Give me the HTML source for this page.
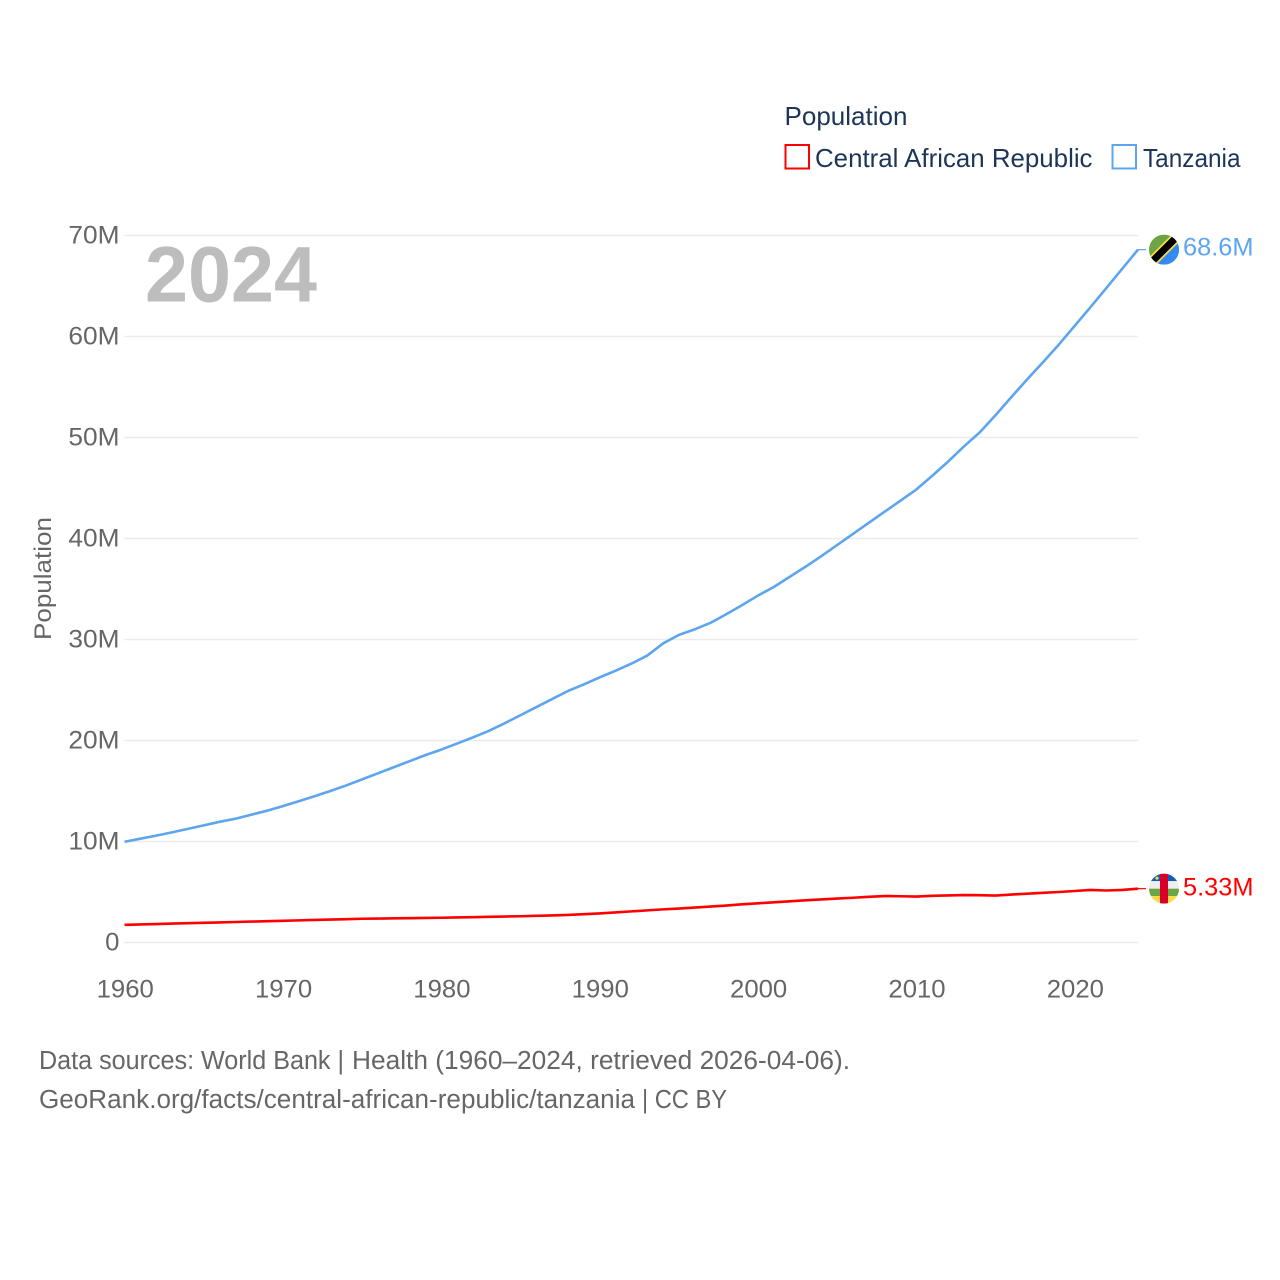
<!DOCTYPE html>
<html lang="en">
<head>
<meta charset="utf-8">
<title>Population: Central African Republic and Tanzania</title>
<style>
html,body{margin:0;padding:0;background:#fff;width:1280px;height:1280px;overflow:hidden}
svg{display:block}
text{font-family:"Liberation Sans",sans-serif}
</style>
</head>
<body>
<svg id="chart" xmlns="http://www.w3.org/2000/svg" width="1280" height="1280" viewBox="0 0 1280 1280">
  <rect x="0" y="0" width="1280" height="1280" fill="#fff"/>
  <g id="grid"></g>
  <g id="yticks"></g>
  <g id="xticks"></g>
  <text x="145" y="301.5" font-size="79" font-weight="700" fill="#bdbdbd" textLength="172" lengthAdjust="spacingAndGlyphs">2024</text>
  <text transform="translate(51,640) rotate(-90)" font-size="24.5" fill="#666" textLength="123" lengthAdjust="spacingAndGlyphs">Population</text>

  <g>
    <text x="784.5" y="125" font-size="26" fill="#1d3557" textLength="123" lengthAdjust="spacingAndGlyphs">Population</text>
    <rect x="785.5" y="145" width="23.5" height="23.5" fill="none" stroke="#f00" stroke-width="2"/>
    <text x="815" y="167" font-size="26" fill="#1d3557" textLength="277.5" lengthAdjust="spacingAndGlyphs">Central African Republic</text>
    <rect x="1112.5" y="145" width="23.5" height="23.5" fill="none" stroke="#5da5ee" stroke-width="2"/>
    <text x="1143" y="167" font-size="26" fill="#1d3557" textLength="97.5" lengthAdjust="spacingAndGlyphs">Tanzania</text>
  </g>

  <path id="line-car" fill="none" stroke="#f00" stroke-width="2.6" stroke-linejoin="round"/>
  <path id="line-tza" fill="none" stroke="#5da5ee" stroke-width="2.6" stroke-linejoin="round"/>
  <path id="conn-car" fill="none" stroke="#f00" stroke-width="1.2"/>
  <path id="conn-tza" fill="none" stroke="#5da5ee" stroke-width="1.2"/>

  <defs>
    <clipPath id="clip-tz"><circle cx="15" cy="15" r="15"/></clipPath>
    <clipPath id="clip-cf"><circle cx="15" cy="15" r="15"/></clipPath>
  </defs>

  <g id="flag-tza">
    <g clip-path="url(#clip-tz)">
      <rect width="30" height="30" fill="#6da544"/>
      <polygon points="30,0 30,30 0,30" fill="#338af3"/>
      <line x1="-2" y1="32" x2="32" y2="-2" stroke="#ffda44" stroke-width="10.5"/>
      <line x1="-2" y1="32" x2="32" y2="-2" stroke="#000" stroke-width="7"/>
    </g>
  </g>
  <g id="flag-car">
    <g clip-path="url(#clip-cf)">
      <rect width="30" height="7.5" fill="#0f5fb8"/>
      <rect y="7.5" width="30" height="7.5" fill="#eee"/>
      <rect y="15" width="30" height="7.5" fill="#6da544"/>
      <rect y="22.5" width="30" height="7.5" fill="#ffda44"/>
      <rect x="11" width="8" height="30" fill="#d80027"/>
      <circle cx="8" cy="4.5" r="1.6" fill="#ffda44"/>
    </g>
  </g>
  <text id="label-tza" x="1183" font-size="25" fill="#5da5ee" textLength="70.5" lengthAdjust="spacingAndGlyphs"></text>
  <text id="label-car" x="1183" font-size="25" fill="#f00" textLength="70.5" lengthAdjust="spacingAndGlyphs"></text>

  <g>
    <text x="39" y="1069" font-size="25.5" fill="#666" textLength="305" lengthAdjust="spacingAndGlyphs">Data sources: World Bank |</text>
    <text x="352" y="1069" font-size="25.5" fill="#666" textLength="498" lengthAdjust="spacingAndGlyphs">Health (1960–2024, retrieved 2026-04-06).</text>
    <text x="39" y="1108" font-size="25.5" fill="#666" textLength="596" lengthAdjust="spacingAndGlyphs">GeoRank.org/facts/central-african-republic/tanzania</text>
    <text x="642" y="1108" font-size="25.5" fill="#666" textLength="85" lengthAdjust="spacingAndGlyphs">| CC BY</text>
  </g>
</svg>
<script>
const firstYear = 1960;
const tanzaniaValues = [
  9.97,10.28,10.58,10.9,11.25,11.6,11.95,12.25,12.65,13.05,
  13.5,13.98,14.48,15.0,15.55,16.15,16.75,17.35,17.95,18.55,
  19.1,19.7,20.3,20.95,21.7,22.5,23.3,24.1,24.9,25.55,
  26.25,26.9,27.6,28.4,29.6,30.45,31.0,31.65,32.5,33.4,
  34.35,35.2,36.2,37.2,38.25,39.35,40.45,41.55,42.65,43.75,
  44.85,46.2,47.6,49.1,50.5,52.2,54.0,55.75,57.45,59.2,
  61.05,62.9,64.8,66.7,68.6
];
const carValues = [
  1.75,1.79,1.83,1.87,1.91,1.95,1.99,2.03,2.07,2.11,
  2.15,2.19,2.23,2.27,2.31,2.35,2.37,2.39,2.41,2.43,
  2.45,2.48,2.51,2.54,2.57,2.6,2.64,2.68,2.73,2.8,
  2.88,2.98,3.08,3.18,3.28,3.36,3.46,3.56,3.66,3.78,
  3.88,3.98,4.08,4.18,4.26,4.35,4.43,4.52,4.6,4.58,
  4.55,4.62,4.66,4.7,4.68,4.65,4.75,4.83,4.92,5.0,
  5.1,5.2,5.15,5.2,5.33
];
const yTickValues = [0,10,20,30,40,50,60,70];
const yTickLabels = ['0','10M','20M','30M','40M','50M','60M','70M'];
const xTickYears = [1960,1970,1980,1990,2000,2010,2020];
const endLabels = ['68.6M','5.33M'];

const NS = 'http://www.w3.org/2000/svg';
const plotLeft = 124.5, plotRight = 1138, plotBottom = 942.5, plotTop = 235.5;
const xScale = function (year) { return plotLeft + (year - 1960) * (plotRight - plotLeft) / 64; };
const yScale = function (m) { return plotBottom - m * (plotBottom - plotTop) / 70; };
const labelWidth = function (s) {
  let w = 0;
  for (const c of s) { w += c === 'M' ? 22.5 : 14.3; }
  return w;
};
const linePath = function (values) {
  return values.map(function (v, i) {
    return (i ? 'L' : 'M') + xScale(firstYear + i).toFixed(2) + ' ' + yScale(v).toFixed(2);
  }).join(' ');
};

const grid = document.getElementById('grid');
const yticks = document.getElementById('yticks');
yTickValues.forEach(function (v, i) {
  const l = document.createElementNS(NS, 'line');
  
  
  l.setAttribute('x1', plotLeft);
  l.setAttribute('x2', plotRight);
  l.setAttribute('y1', yScale(v));
  l.setAttribute('y2', yScale(v));
  l.setAttribute('stroke', '#ebebeb');
  l.setAttribute('stroke-width', '1.6');
  grid.appendChild(l);
  const t = document.createElementNS(NS, 'text');
  
  
  t.setAttribute('x', 119.5);
  t.setAttribute('y', yScale(v) + 8);
  t.setAttribute('text-anchor', 'end');
  t.setAttribute('font-size', '25');
  t.setAttribute('fill', '#666');
  t.setAttribute('textLength', labelWidth(yTickLabels[i]));
  t.setAttribute('lengthAdjust', 'spacingAndGlyphs');
  t.textContent = yTickLabels[i];
  yticks.appendChild(t);
});

const xticks = document.getElementById('xticks');
xTickYears.forEach(function (yr) {
  const t = document.createElementNS(NS, 'text');
  
  
  t.setAttribute('x', xScale(yr) + 0.7);
  t.setAttribute('y', 997.5);
  t.setAttribute('text-anchor', 'middle');
  t.setAttribute('font-size', '25');
  t.setAttribute('fill', '#666');
  t.setAttribute('textLength', labelWidth(String(yr)));
  t.setAttribute('lengthAdjust', 'spacingAndGlyphs');
  t.textContent = String(yr);
  xticks.appendChild(t);
});

document.getElementById('line-tza').setAttribute('d', linePath(tanzaniaValues));
document.getElementById('line-car').setAttribute('d', linePath(carValues));

const tzaEnd = yScale(tanzaniaValues[tanzaniaValues.length - 1]);
const carEnd = yScale(carValues[carValues.length - 1]);
document.getElementById('conn-tza').setAttribute('d', 'M' + plotRight + ' ' + tzaEnd + ' H1146');
document.getElementById('conn-car').setAttribute('d', 'M' + plotRight + ' ' + carEnd + ' H1146');
document.getElementById('flag-tza').setAttribute('transform', 'translate(1149,' + (tzaEnd - 15) + ')');
document.getElementById('flag-car').setAttribute('transform', 'translate(1149,' + (carEnd - 15) + ')');
const labelTza = document.getElementById('label-tza');
labelTza.setAttribute('y', tzaEnd + 6);
labelTza.textContent = endLabels[0];
const labelCar = document.getElementById('label-car');
labelCar.setAttribute('y', carEnd + 7);
labelCar.textContent = endLabels[1];
</script>
</body>
</html>
